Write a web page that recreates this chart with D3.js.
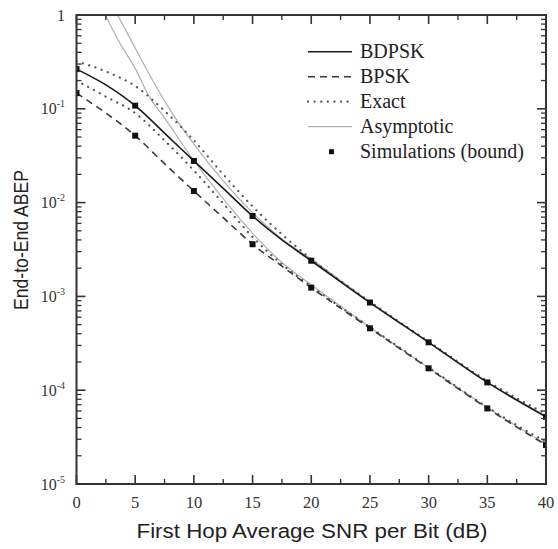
<!DOCTYPE html>
<html><head><meta charset="utf-8">
<script src="https://cdn.jsdelivr.net/npm/d3@7"></script>
<style>body{margin:0;background:#fff}</style></head>
<body>
<svg id="c" width="558" height="549"></svg>
<script>
// ---- data ----
const snr = [0, 2.5, 5, 7.5, 10, 12.5, 15, 17.5, 20, 25, 30, 35, 40];
const boundBDPSK = [0.265, 0.18, 0.108, 0.055, 0.0278, 0.0142, 0.0072, 0.0040, 0.0024, 8.6e-4, 3.24e-4, 1.21e-4, 5.2e-5];
const boundBPSK  = [0.147, 0.09, 0.0517, 0.026, 0.0133, 0.0069, 0.0036, 0.0021, 1.24e-3, 4.57e-4, 1.71e-4, 6.4e-5, 2.6e-5];
const exactBDPSK = [0.32, 0.25, 0.175, 0.095, 0.046, 0.020, 0.0091, 0.0046, 0.0025, 8.8e-4, 3.3e-4, 1.25e-4, 5.6e-5];
const exactBPSK  = [0.20, 0.135, 0.09, 0.046, 0.022, 0.0098, 0.0043, 0.0022, 1.28e-3, 4.7e-4, 1.75e-4, 6.6e-5, 2.8e-5];
const asymSnrBDPSK = [3.0, 3.5, 5.1, 6.5, 7.7, 10, 12.5, 15, 17.5, 20, 25, 30, 35, 40];
const asymBDPSK    = [1.3, 1.0, 0.42, 0.2, 0.11, 0.042, 0.017, 0.0078, 0.0041, 0.0025, 8.7e-4, 3.25e-4, 1.22e-4, 5.3e-5];
const asymSnrBPSK  = [2.0, 2.45, 3.7, 5, 6.2, 7.5, 10, 12.5, 15, 17.5, 20, 25, 30, 35, 40];
const asymBPSK     = [1.3, 1.0, 0.5, 0.27, 0.135, 0.08, 0.028, 0.011, 0.0047, 0.0023, 1.33e-3, 4.7e-4, 1.73e-4, 6.5e-5, 2.65e-5];
const simSnr   = [0, 5, 10, 15, 20, 25, 30, 35, 40];
const simBDPSK = [0.265, 0.108, 0.0278, 0.0072, 0.0024, 8.6e-4, 3.24e-4, 1.21e-4, 5.2e-5];
const simBPSK  = [0.147, 0.0517, 0.0133, 0.0036, 1.24e-3, 4.57e-4, 1.71e-4, 6.4e-5, 2.6e-5];
const xTicks = [0, 5, 10, 15, 20, 25, 30, 35, 40];
const xMinorTicks = [2.5, 7.5, 12.5, 17.5, 22.5, 27.5, 32.5, 37.5];
const yTickExps = [0, -1, -2, -3, -4, -5];
const legendLabels = ["BDPSK", "BPSK", "Exact", "Asymptotic", "Simulations (bound)"];
const xTitle = "First Hop Average SNR per Bit (dB)";
const yTitle = "End-to-End ABEP";

// ---- layout ----
const L = 76.5, R = 546, T = 15, B = 484;
const svg = d3.select("#c");
const x = d3.scaleLinear().domain([0, 40]).range([L, R]);
const y = d3.scaleLog().domain([1e-5, 1]).range([B, T]);

svg.append("defs").append("clipPath").attr("id", "clip")
  .append("rect").attr("x", L).attr("y", T).attr("width", R - L).attr("height", B - T);
const plot = svg.append("g").attr("clip-path", "url(#clip)");

const line = d3.line().x(d => x(d[0])).y(d => y(d[1])).curve(d3.curveMonotoneX);
const zip = (a, b) => a.map((v, i) => [v, b[i]]);

const styles = {
  solid:  {stroke: "#1a1a1a", w: 1.6, dash: null},
  dashed: {stroke: "#3a3a3a", w: 1.6, dash: "7,5"},
  dotted: {stroke: "#555", w: 2.2, dash: "0.1,6.5", cap: "round"},
  gray:   {stroke: "#b0b0b0", w: 1.2, dash: null}
};
function draw(g, pts, s) {
  const p = g.append("path").attr("d", line(pts)).attr("fill", "none")
    .attr("stroke", s.stroke).attr("stroke-width", s.w);
  if (s.dash) p.attr("stroke-dasharray", s.dash);
  if (s.cap) p.attr("stroke-linecap", s.cap);
}
draw(plot, zip(asymSnrBDPSK, asymBDPSK), styles.gray);
draw(plot, zip(asymSnrBPSK, asymBPSK), styles.gray);
draw(plot, zip(snr, exactBDPSK), styles.dotted);
draw(plot, zip(snr, exactBPSK), styles.dotted);
draw(plot, zip(snr, boundBPSK), styles.dashed);
draw(plot, zip(snr, boundBDPSK), styles.solid);

const sq = 6;
[simBDPSK, simBPSK].forEach(series => {
  plot.selectAll(null).data(zip(simSnr, series)).enter().append("rect")
    .attr("x", d => x(d[0]) - sq / 2).attr("y", d => y(d[1]) - sq / 2)
    .attr("width", sq).attr("height", sq).attr("fill", "#111");
});

// ---- axes frame and ticks (inward) ----
const ax = svg.append("g").attr("stroke", "#333");
ax.append("rect").attr("x", L).attr("y", T).attr("width", R - L).attr("height", B - T)
  .attr("fill", "none").attr("stroke-width", 2);
const major = 9, minor = 5;
xTicks.forEach(t => {
  ax.append("line").attr("x1", x(t)).attr("x2", x(t)).attr("y1", B).attr("y2", B - major).attr("stroke-width", 1.6);
  ax.append("line").attr("x1", x(t)).attr("x2", x(t)).attr("y1", T).attr("y2", T + major).attr("stroke-width", 1.6);
});
xMinorTicks.forEach(t => {
  ax.append("line").attr("x1", x(t)).attr("x2", x(t)).attr("y1", B).attr("y2", B - minor).attr("stroke-width", 1.4);
  ax.append("line").attr("x1", x(t)).attr("x2", x(t)).attr("y1", T).attr("y2", T + minor).attr("stroke-width", 1.4);
});
yTickExps.forEach(e => {
  const v = Math.pow(10, e);
  ax.append("line").attr("x1", L).attr("x2", L + major).attr("y1", y(v)).attr("y2", y(v)).attr("stroke-width", 1.6);
  ax.append("line").attr("x1", R).attr("x2", R - major).attr("y1", y(v)).attr("y2", y(v)).attr("stroke-width", 1.6);
  if (e > -5) {
    for (let m = 2; m <= 9; m++) {
      const vv = v * m / 10;
      ax.append("line").attr("x1", L).attr("x2", L + minor).attr("y1", y(vv)).attr("y2", y(vv)).attr("stroke-width", 1.3);
      ax.append("line").attr("x1", R).attr("x2", R - minor).attr("y1", y(vv)).attr("y2", y(vv)).attr("stroke-width", 1.3);
    }
  }
});

// ---- tick labels ----
const serif = "'Liberation Serif','Times New Roman',serif";
const sans = "'Liberation Sans',Arial,sans-serif";
xTicks.forEach(t => {
  svg.append("text").attr("x", x(t)).attr("y", 508).attr("text-anchor", "middle")
    .attr("font-family", serif).attr("font-size", 16.5).attr("fill", "#333").text(t);
});
yTickExps.forEach(e => {
  const yy = y(Math.pow(10, e)) + 5.5;
  const t = svg.append("text").attr("x", 65).attr("y", yy).attr("text-anchor", "end")
    .attr("font-family", serif).attr("font-size", 16).attr("fill", "#333");
  if (e === 0) { t.text("1"); }
  else {
    t.append("tspan").text("10");
    t.append("tspan").attr("font-size", 10).attr("dy", -7).text(e);
  }
});

// ---- titles ----
svg.append("text").attr("x", 312).attr("y", 538).attr("text-anchor", "middle")
  .attr("font-family", sans).attr("font-size", 20).attr("fill", "#222")
  .attr("textLength", 351).attr("lengthAdjust", "spacingAndGlyphs").text(xTitle);
svg.append("text").attr("transform", "translate(27.5,240) rotate(-90)").attr("text-anchor", "middle")
  .attr("font-family", sans).attr("font-size", 21).attr("fill", "#222")
  .attr("textLength", 140).attr("lengthAdjust", "spacingAndGlyphs").text(yTitle);

// ---- legend ----
const lg = svg.append("g");
const rowY = [51.7, 76.7, 101.7, 126.7, 151.7];
const legStyles = [styles.solid, styles.dashed, styles.dotted, styles.gray];
legStyles.forEach((s, i) => {
  const p = lg.append("line").attr("x1", 308).attr("x2", 352).attr("y1", rowY[i]).attr("y2", rowY[i])
    .attr("stroke", s.stroke).attr("stroke-width", s.w);
  if (s.dash) p.attr("stroke-dasharray", s.dash);
  if (s.cap) p.attr("stroke-linecap", s.cap);
});
lg.append("rect").attr("x", 331.5 - 2.5).attr("y", rowY[4] - 2.5).attr("width", 5).attr("height", 5).attr("fill", "#111");
legendLabels.forEach((lab, i) => {
  lg.append("text").attr("x", 360).attr("y", rowY[i] + 6.6)
    .attr("font-family", serif).attr("font-size", 20).attr("fill", "#222").text(lab);
});
</script>
</body></html>
